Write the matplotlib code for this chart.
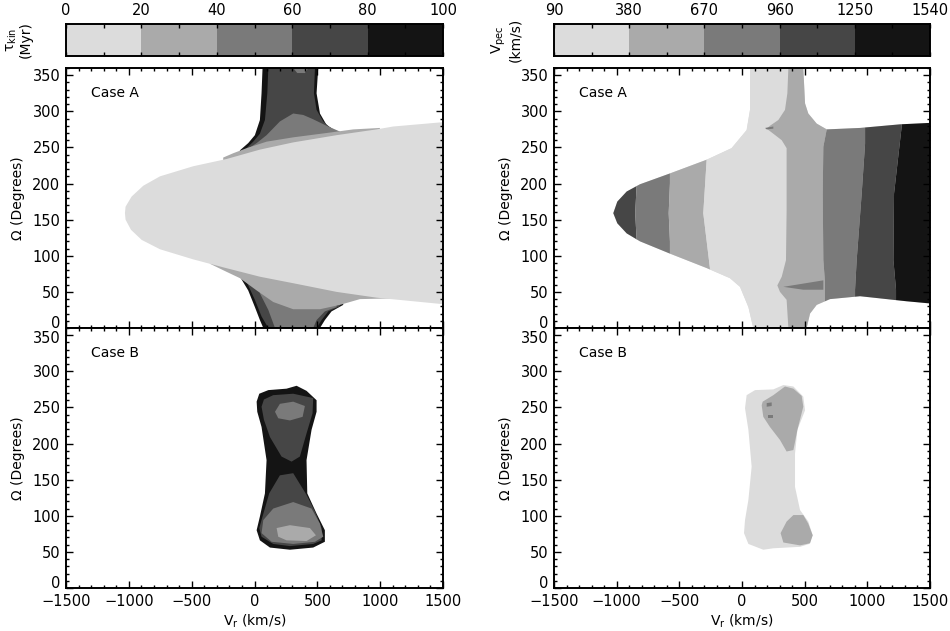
import matplotlib
matplotlib.use('Agg')
import matplotlib.pyplot as plt
import numpy as np
from matplotlib.patches import Polygon
from matplotlib.ticker import MultipleLocator, FixedLocator
from matplotlib.transforms import ScaledTranslation

plt.rcParams['font.family'] = ['DejaVu Sans']
plt.rcParams['font.size'] = 10.5
plt.rcParams['mathtext.fontset'] = 'dejavusans'

# ---------------- colour levels ----------------
grays = ['#dcdcdc', '#aaaaaa', '#7a7a7a', '#464646', '#141414']
tau_bounds = [0, 20, 40, 60, 80, 100]
vpec_bounds = [90, 380, 670, 960, 1250, 1540]

# ---------------- Case A, tau_kin (left) ----------------
tauA_top_black_vr = [64, 56, 43, 3, -50, -116, -116, 706, 653, 574, 521, 494, 507]
tauA_top_black_om = [360, 325, 288, 267, 256, 246, 232, 232, 272, 281, 297, 325, 360]
tauA_top_dark_vr = [110, 102, 83, 43, -10, -63, -63, 706, 613, 547, 494, 473, 481]
tauA_top_dark_om = [360, 325, 288, 269, 258, 249, 233, 233, 276, 286, 302, 325, 360]
tauA_top_mid_vr = [308, 202, 96, 17, -63, -63, 733, 680, 574, 467, 388]
tauA_top_mid_om = [297, 286, 267, 256, 247, 233, 233, 272, 280, 289, 295]
tauA_blob_vr = [308, 428, 401, 340]
tauA_blob_om = [360, 360, 353, 353]
tauA_bot_black_vr = [-116, -50, 3, 43, 70, 521, 560, 613, 706, 706, -116]
tauA_bot_black_om = [71, 52, 29, 11, 0, 0, 11, 23, 32, 76, 76]
tauA_bot_dark_vr = [-63, 3, 56, 110, 494, 534, 587, 680, 680, -63]
tauA_bot_dark_om = [64, 39, 16, 0, 0, 11, 23, 30, 76, 76]
tauA_bot_mid_vr = [43, 110, 163, 467, 494, 560, 653, 653, 43]
tauA_bot_mid_om = [48, 25, 0, 0, 11, 23, 29, 57, 57]
tauA_up_band_vr = [-249, -169, -63, 96, 308, 574, 786, 998, 998, -249]
tauA_up_band_om = [236, 242, 249, 258, 264, 270, 275, 277, 223, 223]
tauA_lo_band_vr = [-355, -355, 1104, 1104, 839, 680, 521, 308, 149, 17, -116, -249]
tauA_lo_band_om = [89, 94, 94, 41, 40, 32, 26, 26, 36, 52, 69, 80]
tauA_light_vr = [1500, 1104, 971, 653, 308, 43, -222, -487, -752, -885, -978, -1026,
                 -1031, -1026, -983, -898, -752, -487, -249, 43, 308, 653, 971, 1500]
tauA_light_om = [285, 279, 275, 267, 257, 247, 234, 224, 210, 197, 182, 168,
                 159, 150, 136, 122, 109, 95, 84, 71, 62, 50, 42, 33]

# ---------------- Case B, tau_kin (left) ----------------
tauB_black_vr = [17, 38, 110, 255, 335, 414, 494, 494, 454, 414, 420, 494, 560, 560,
                 467, 282, 123, 43, 17, 43, 83, 96, 56, 22]
tauB_black_om = [258, 269, 274, 276, 280, 273, 260, 244, 219, 177, 131, 103, 80, 64,
                 56, 53, 56, 66, 80, 99, 131, 177, 223, 244]
tauB_updark_vr = [56, 75, 149, 308, 467, 462, 414, 361, 295, 215, 123, 75]
tauB_updark_om = [251, 261, 267, 269, 263, 242, 214, 182, 175, 182, 209, 233]
tauB_lodark_vr = [202, 308, 414, 481, 534, 534, 467, 282, 149, 56, 38, 64, 117]
tauB_lodark_om = [156, 159, 129, 106, 83, 66, 61, 58, 61, 71, 83, 99, 131]
tauB_lomid_vr = [70, 149, 308, 454, 521, 547, 481, 308, 136, 56]
tauB_lomid_om = [94, 110, 119, 110, 89, 71, 64, 61, 64, 76]
tauB_lolight_vr = [176, 282, 441, 489, 414, 255, 189]
tauB_lolight_om = [83, 87, 83, 73, 65, 66, 71]
tauB_upmid_vr = [163, 202, 308, 401, 383, 282, 189]
tauB_upmid_om = [244, 255, 258, 252, 237, 232, 235]

# ---------------- Case A, Vpec (right) ----------------
vpA_out_vr = [64, 489, 503, 529, 596, 676, 942, 1261, 1500, 1500, 1314, 942, 702, 596,
              543, 516, 90, 51, -16, -96, -282, -575, -814, -920, -995, -1027, -995,
              -920, -814, -575, -282, -83, -16, 37, 64]
vpA_out_om = [360, 360, 311, 297, 283, 275, 277, 282, 284, 34, 37, 44, 40, 32,
              20, 0, 0, 29, 57, 69, 83, 103, 120, 131, 145, 159, 175,
              189, 199, 214, 233, 249, 263, 274, 302]
vpA_b1_om = [0, 120, 159, 200, 360]
vpA_b1_vr = [-840, -840, -852, -840, -840]
vpA_b2_om = [0, 120, 159, 200, 360]
vpA_b2_vr = [-575, -575, -585, -575, -575]
vpA_b3_om = [0, 83, 159, 233, 360]
vpA_b3_vr = [-256, -256, -309, -282, -282]
vpA_b4_om = [0, 39, 50, 59, 71, 94, 163, 249, 260, 269, 276, 280, 288, 302, 325, 360]
vpA_b4_vr = [370, 356, 303, 282, 317, 351, 356, 356, 317, 250, 197, 223, 290, 343, 362, 370]
vpA_b5_om = [0, 64, 94, 186, 251, 275, 360]
vpA_b5_vr = [662, 662, 649, 644, 649, 676, 676]
vpA_b6_om = [0, 53, 94, 186, 255, 360]
vpA_b6_vr = [902, 902, 915, 955, 982, 982]
vpA_b7_om = [0, 53, 94, 186, 279, 360]
vpA_b7_vr = [1229, 1229, 1208, 1213, 1274, 1274]
vpA_band_levels = [3, 2, 1, 0, 1, 2, 3, 4]
vpA_wedge_vr = [330, 649, 649, 489]
vpA_wedge_om = [57, 66, 53, 53]
vpA_speck_vr = [184, 250, 250, 197]
vpA_speck_om = [277, 279, 276, 275]

# ---------------- Case B, Vpec (right) ----------------
vpB_light_vr = [24, 37, 104, 250, 330, 410, 489, 503, 442, 423, 423, 463, 529, 564,
                537, 463, 250, 170, 51, 16, 24, 51, 77, 51]
vpB_light_om = [249, 267, 274, 275, 281, 279, 265, 246, 219, 186, 140, 108, 92, 73,
                61, 57, 55, 53, 61, 76, 94, 122, 168, 219]
vpB_up_vr = [157, 165, 250, 343, 410, 476, 489, 442, 410, 356, 303, 223, 170]
vpB_up_om = [253, 258, 267, 279, 276, 266, 251, 219, 191, 189, 205, 223, 237]
vpB_lo_vr = [308, 356, 410, 489, 529, 564, 543, 463, 330]
vpB_lo_om = [76, 92, 101, 101, 89, 73, 62, 59, 63]
vpB_speck1_vr = [197, 237, 237, 197]
vpB_speck1_om = [256, 257, 252, 251]
vpB_speck2_vr = [205, 245, 245, 205]
vpB_speck2_om = [240, 240, 236, 236]

x_ticks = [-1500, -1000, -500, 0, 500, 1000, 1500]
y_ticks = [0, 50, 100, 150, 200, 250, 300, 350]

# ---------------- figure ----------------
W, H = 950, 631
fig = plt.figure(figsize=(W / 100, H / 100), dpi=100)

def fpos(x0, y0, x1, y1):
    return [x0 / W, 1 - y1 / H, (x1 - x0) / W, (y1 - y0) / H]

cols = [(66, 443), (554, 930)]
axA = [fig.add_axes(fpos(c[0], 68, c[1], 328)) for c in cols]
axB = [fig.add_axes(fpos(c[0], 328, c[1], 588)) for c in cols]
axC = [fig.add_axes(fpos(c[0], 24.5, c[1], 55.5)) for c in cols]

def shift(label, dy_px):
    label.set_transform(label.get_transform() +
                        ScaledTranslation(0, dy_px / 100, fig.dpi_scale_trans))

def style(ax, bottom_labels):
    ax.set_xlim(-1500, 1500)
    ax.set_ylim(0, 360)
    ax.set_xticks(x_ticks)
    ax.set_yticks(y_ticks)
    ax.set_xticklabels([str(v).replace('-', '\u2212') for v in x_ticks])
    ax.set_yticklabels([str(v) for v in y_ticks])
    ax.xaxis.set_minor_locator(MultipleLocator(100))
    ax.yaxis.set_minor_locator(MultipleLocator(10))
    ax.tick_params(which='both', direction='in', top=True, right=True, width=1.0)
    ax.tick_params(which='major', length=5, pad=4)
    ax.tick_params(which='minor', length=2.5)
    ax.tick_params(axis='x', labelbottom=bottom_labels)
    for s in ax.spines.values():
        s.set_linewidth(1.4)
    labs = ax.get_yticklabels()
    shift(labs[0], 6)      # zero label sits a little above the frame corner
    if bottom_labels:
        shift(labs[-1], -2)

def fill(ax, vr, om, lev, **kw):
    return ax.fill(vr, om, color=grays[lev], lw=0, **kw)[0]

# Left Case A
a = axA[0]
fill(a, tauA_top_black_vr, tauA_top_black_om, 4)
fill(a, tauA_top_dark_vr, tauA_top_dark_om, 3)
fill(a, tauA_top_mid_vr, tauA_top_mid_om, 2)
fill(a, tauA_blob_vr, tauA_blob_om, 2)
fill(a, tauA_bot_black_vr, tauA_bot_black_om, 4)
fill(a, tauA_bot_dark_vr, tauA_bot_dark_om, 3)
fill(a, tauA_bot_mid_vr, tauA_bot_mid_om, 2)
fill(a, tauA_up_band_vr, tauA_up_band_om, 1)
fill(a, tauA_lo_band_vr, tauA_lo_band_om, 1)
fill(a, tauA_light_vr, tauA_light_om, 0)

# Left Case B
b = axB[0]
fill(b, tauB_black_vr, tauB_black_om, 4)
fill(b, tauB_updark_vr, tauB_updark_om, 3)
fill(b, tauB_lodark_vr, tauB_lodark_om, 3)
fill(b, tauB_lomid_vr, tauB_lomid_om, 2)
fill(b, tauB_lolight_vr, tauB_lolight_om, 1)
fill(b, tauB_upmid_vr, tauB_upmid_om, 2)

# Right Case A
a = axA[1]
outer = Polygon(np.column_stack([vpA_out_vr, vpA_out_om]), closed=True,
                facecolor=grays[0], edgecolor='none')
a.add_patch(outer)
curves = [([-1700, -1700], [-20, 380]),
          (vpA_b1_vr, vpA_b1_om), (vpA_b2_vr, vpA_b2_om), (vpA_b3_vr, vpA_b3_om),
          (vpA_b4_vr, vpA_b4_om), (vpA_b5_vr, vpA_b5_om), (vpA_b6_vr, vpA_b6_om),
          (vpA_b7_vr, vpA_b7_om), ([1700, 1700], [-20, 380])]
for i, lev in enumerate(vpA_band_levels):
    lv, lo = curves[i]
    rv, ro = curves[i + 1]
    lvx = [lv[0]] + list(lv) + [lv[-1]]
    lox = [-20] + list(lo) + [380]
    rvx = [rv[0]] + list(rv) + [rv[-1]]
    rox = [-20] + list(ro) + [380]
    p = fill(a, lvx + rvx[::-1], lox + rox[::-1], lev)
    p.set_clip_path(outer)
p = fill(a, vpA_wedge_vr, vpA_wedge_om, 2)
p.set_clip_path(outer)
fill(a, vpA_speck_vr, vpA_speck_om, 2)

# Right Case B
b = axB[1]
fill(b, vpB_light_vr, vpB_light_om, 0)
fill(b, vpB_up_vr, vpB_up_om, 1)
fill(b, vpB_lo_vr, vpB_lo_om, 1)
fill(b, vpB_speck1_vr, vpB_speck1_om, 2)
fill(b, vpB_speck2_vr, vpB_speck2_om, 2)

for ax in axA:
    style(ax, False)
    ax.text(-1300, 326, 'Case A', ha='left', va='center', fontsize=10)
for ax in axB:
    style(ax, True)
    ax.text(-1300, 326, 'Case B', ha='left', va='center', fontsize=10)

# colour bars
for ax, bounds in zip(axC, [tau_bounds, vpec_bounds]):
    ax.pcolormesh(bounds, [0, 1], np.arange(5).reshape(1, 5),
                  cmap=matplotlib.colors.ListedColormap(grays), vmin=-0.5, vmax=4.5)
    ax.set_xlim(bounds[0], bounds[-1])
    ax.set_ylim(0, 1)
    ax.set_yticks([])
    ax.set_xticks(bounds)
    mids = [(bounds[i] + bounds[i + 1]) / 2 for i in range(5)]
    ax.xaxis.set_minor_locator(FixedLocator(mids))
    ax.tick_params(which='both', direction='in', top=True, bottom=True,
                   labeltop=True, labelbottom=False, length=3, width=1.0, pad=5)
    for s in ax.spines.values():
        s.set_linewidth(1.4)

# axis labels
for xc in [18, 506]:
    for yc in [198, 458]:
        fig.text(xc / W, 1 - yc / H, 'Ω (Degrees)', rotation=90, ha='center',
                 va='center', fontsize=10)
for xc in [254.5, 742]:
    fig.text(xc / W, 1 - 621 / H, r'V$_\mathregular{r}$ (km/s)', ha='center',
             va='center', fontsize=10)
fig.text(19 / W, 1 - 40 / H, 'τ$_\\mathregular{kin}$\n(Myr)', rotation=90,
         ha='center', va='center', linespacing=1.0, fontsize=10)
fig.text(506 / W, 1 - 40 / H, 'V$_\\mathregular{pec}$\n(km/s)', rotation=90,
         ha='center', va='center', linespacing=1.0, fontsize=10)

fig.savefig('out.png', dpi=100)
